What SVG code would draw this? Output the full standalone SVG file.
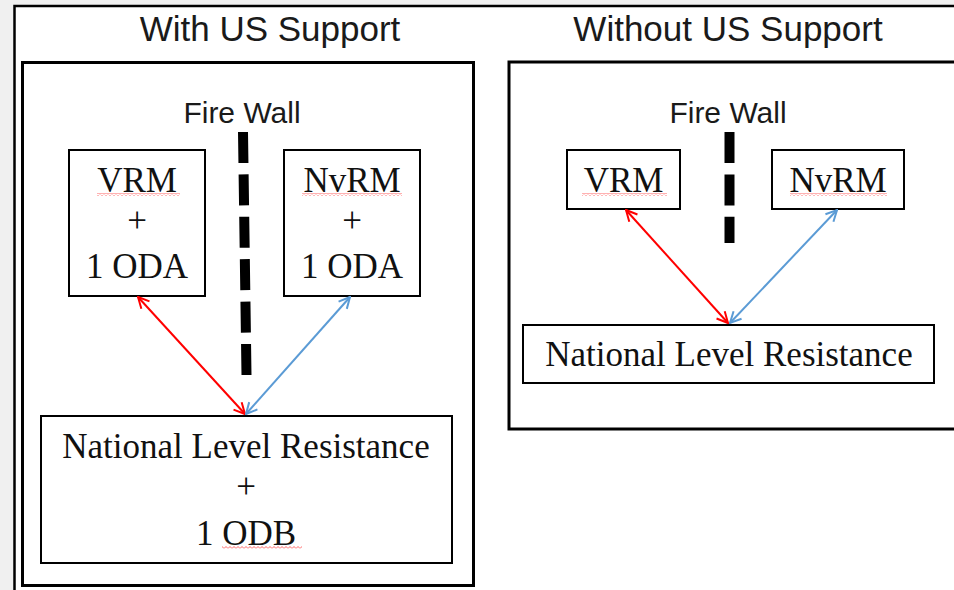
<svg xmlns="http://www.w3.org/2000/svg" width="954" height="590" viewBox="0 0 954 590">
<defs>
<style>
.sans{font-family:"Liberation Sans",Arial,sans-serif;fill:#1a1a1a;text-anchor:middle}
.serif{font-family:"Liberation Serif","Times New Roman",serif;fill:#111;text-anchor:middle;font-size:35px}
.box{fill:#fff;stroke:#000;stroke-width:2}
.panel{fill:#fff;stroke:#000;stroke-width:3}
.wall{stroke:#000;stroke-width:10;stroke-dasharray:31 11.4;fill:none}
.red{stroke:#ff0000;stroke-width:2;fill:none}
.blue{stroke:#5b9bd5;stroke-width:2;fill:none}
.sq{fill:url(#squig)}
</style>
<pattern id="squig" width="4" height="3" patternUnits="userSpaceOnUse">
<path d="M0,2.5 L2,0.5 L4,2.5" fill="none" stroke="#ff3b3b" stroke-width="0.8"/>
</pattern>
<marker id="ar" viewBox="0 0 14 14" refX="13" refY="7" markerWidth="14" markerHeight="14" markerUnits="userSpaceOnUse" orient="auto-start-reverse">
<path d="M2,1.5 L13,7 L2,12.5" fill="none" stroke="#ff0000" stroke-width="2"/>
</marker>
<marker id="ab" viewBox="0 0 14 14" refX="13" refY="7" markerWidth="14" markerHeight="14" markerUnits="userSpaceOnUse" orient="auto-start-reverse">
<path d="M2,1.5 L13,7 L2,12.5" fill="none" stroke="#5b9bd5" stroke-width="2"/>
</marker>
</defs>
<rect width="954" height="590" fill="#f0f0f0"/>
<rect x="14.5" y="6" width="950" height="600" fill="#fff" stroke="#000" stroke-width="2.5"/>

<g id="title-with">
<text class="sans" x="270" y="41" font-size="35">With US Support</text>
</g>
<g id="title-without">
<text class="sans" x="728" y="41" font-size="35">Without US Support</text>
</g>

<g id="panel-with">
<rect class="panel" x="22.5" y="62.5" width="451" height="523"/>
</g>
<g id="panel-without">
<rect class="panel" x="509" y="62" width="460" height="367"/>
</g>

<g id="firewall-left">
<text class="sans" x="242" y="123" font-size="30">Fire Wall</text>
<path class="wall" d="M243,132 L246.5,375"/>
</g>
<g id="firewall-right">
<text class="sans" x="728" y="123" font-size="30">Fire Wall</text>
<path class="wall" d="M729.5,132 L729.5,243"/>
</g>

<g id="vrm-left">
<rect class="box" x="69" y="150" width="136" height="146"/>
<text class="serif" x="137" y="192">VRM</text>
<rect class="sq" x="97" y="193" width="83" height="3"/>
<text class="serif" x="137" y="232">+</text>
<text class="serif" x="137" y="278">1 ODA</text>
</g>
<g id="nvrm-left">
<rect class="box" x="284" y="150" width="136" height="146"/>
<text class="serif" x="352" y="192">NvRM</text>
<rect class="sq" x="302" y="193" width="100" height="3"/>
<text class="serif" x="352" y="232">+</text>
<text class="serif" x="352" y="278">1 ODA</text>
</g>
<g id="nlr-left">
<rect class="box" x="41" y="416" width="411" height="147"/>
<text class="serif" x="246" y="458" font-size="36">National Level Resistance</text>
<text class="serif" x="246" y="498">+</text>
<text class="serif" x="246" y="545">1 ODB</text>
<rect class="sq" x="222" y="546" width="80" height="3"/>
</g>

<g id="vrm-right">
<rect class="box" x="567" y="150" width="113" height="59"/>
<text class="serif" x="623.5" y="192">VRM</text>
<rect class="sq" x="582" y="193" width="85" height="3"/>
</g>
<g id="nvrm-right">
<rect class="box" x="772" y="150" width="132" height="59"/>
<text class="serif" x="838" y="192">NvRM</text>
<rect class="sq" x="790" y="193" width="97" height="3"/>
</g>
<g id="nlr-right">
<rect class="box" x="523" y="325" width="411" height="58"/>
<text class="serif" x="729" y="366" font-size="36">National Level Resistance</text>
</g>

<g id="connectors">
<line class="red" x1="138" y1="297" x2="245" y2="414" marker-start="url(#ar)" marker-end="url(#ar)"/>
<line class="blue" x1="350" y1="297" x2="246" y2="414" marker-start="url(#ab)" marker-end="url(#ab)"/>
<line class="red" x1="626" y1="210" x2="728" y2="323" marker-start="url(#ar)" marker-end="url(#ar)"/>
<line class="blue" x1="837" y1="210" x2="730" y2="323" marker-start="url(#ab)" marker-end="url(#ab)"/>
</g>
</svg>
